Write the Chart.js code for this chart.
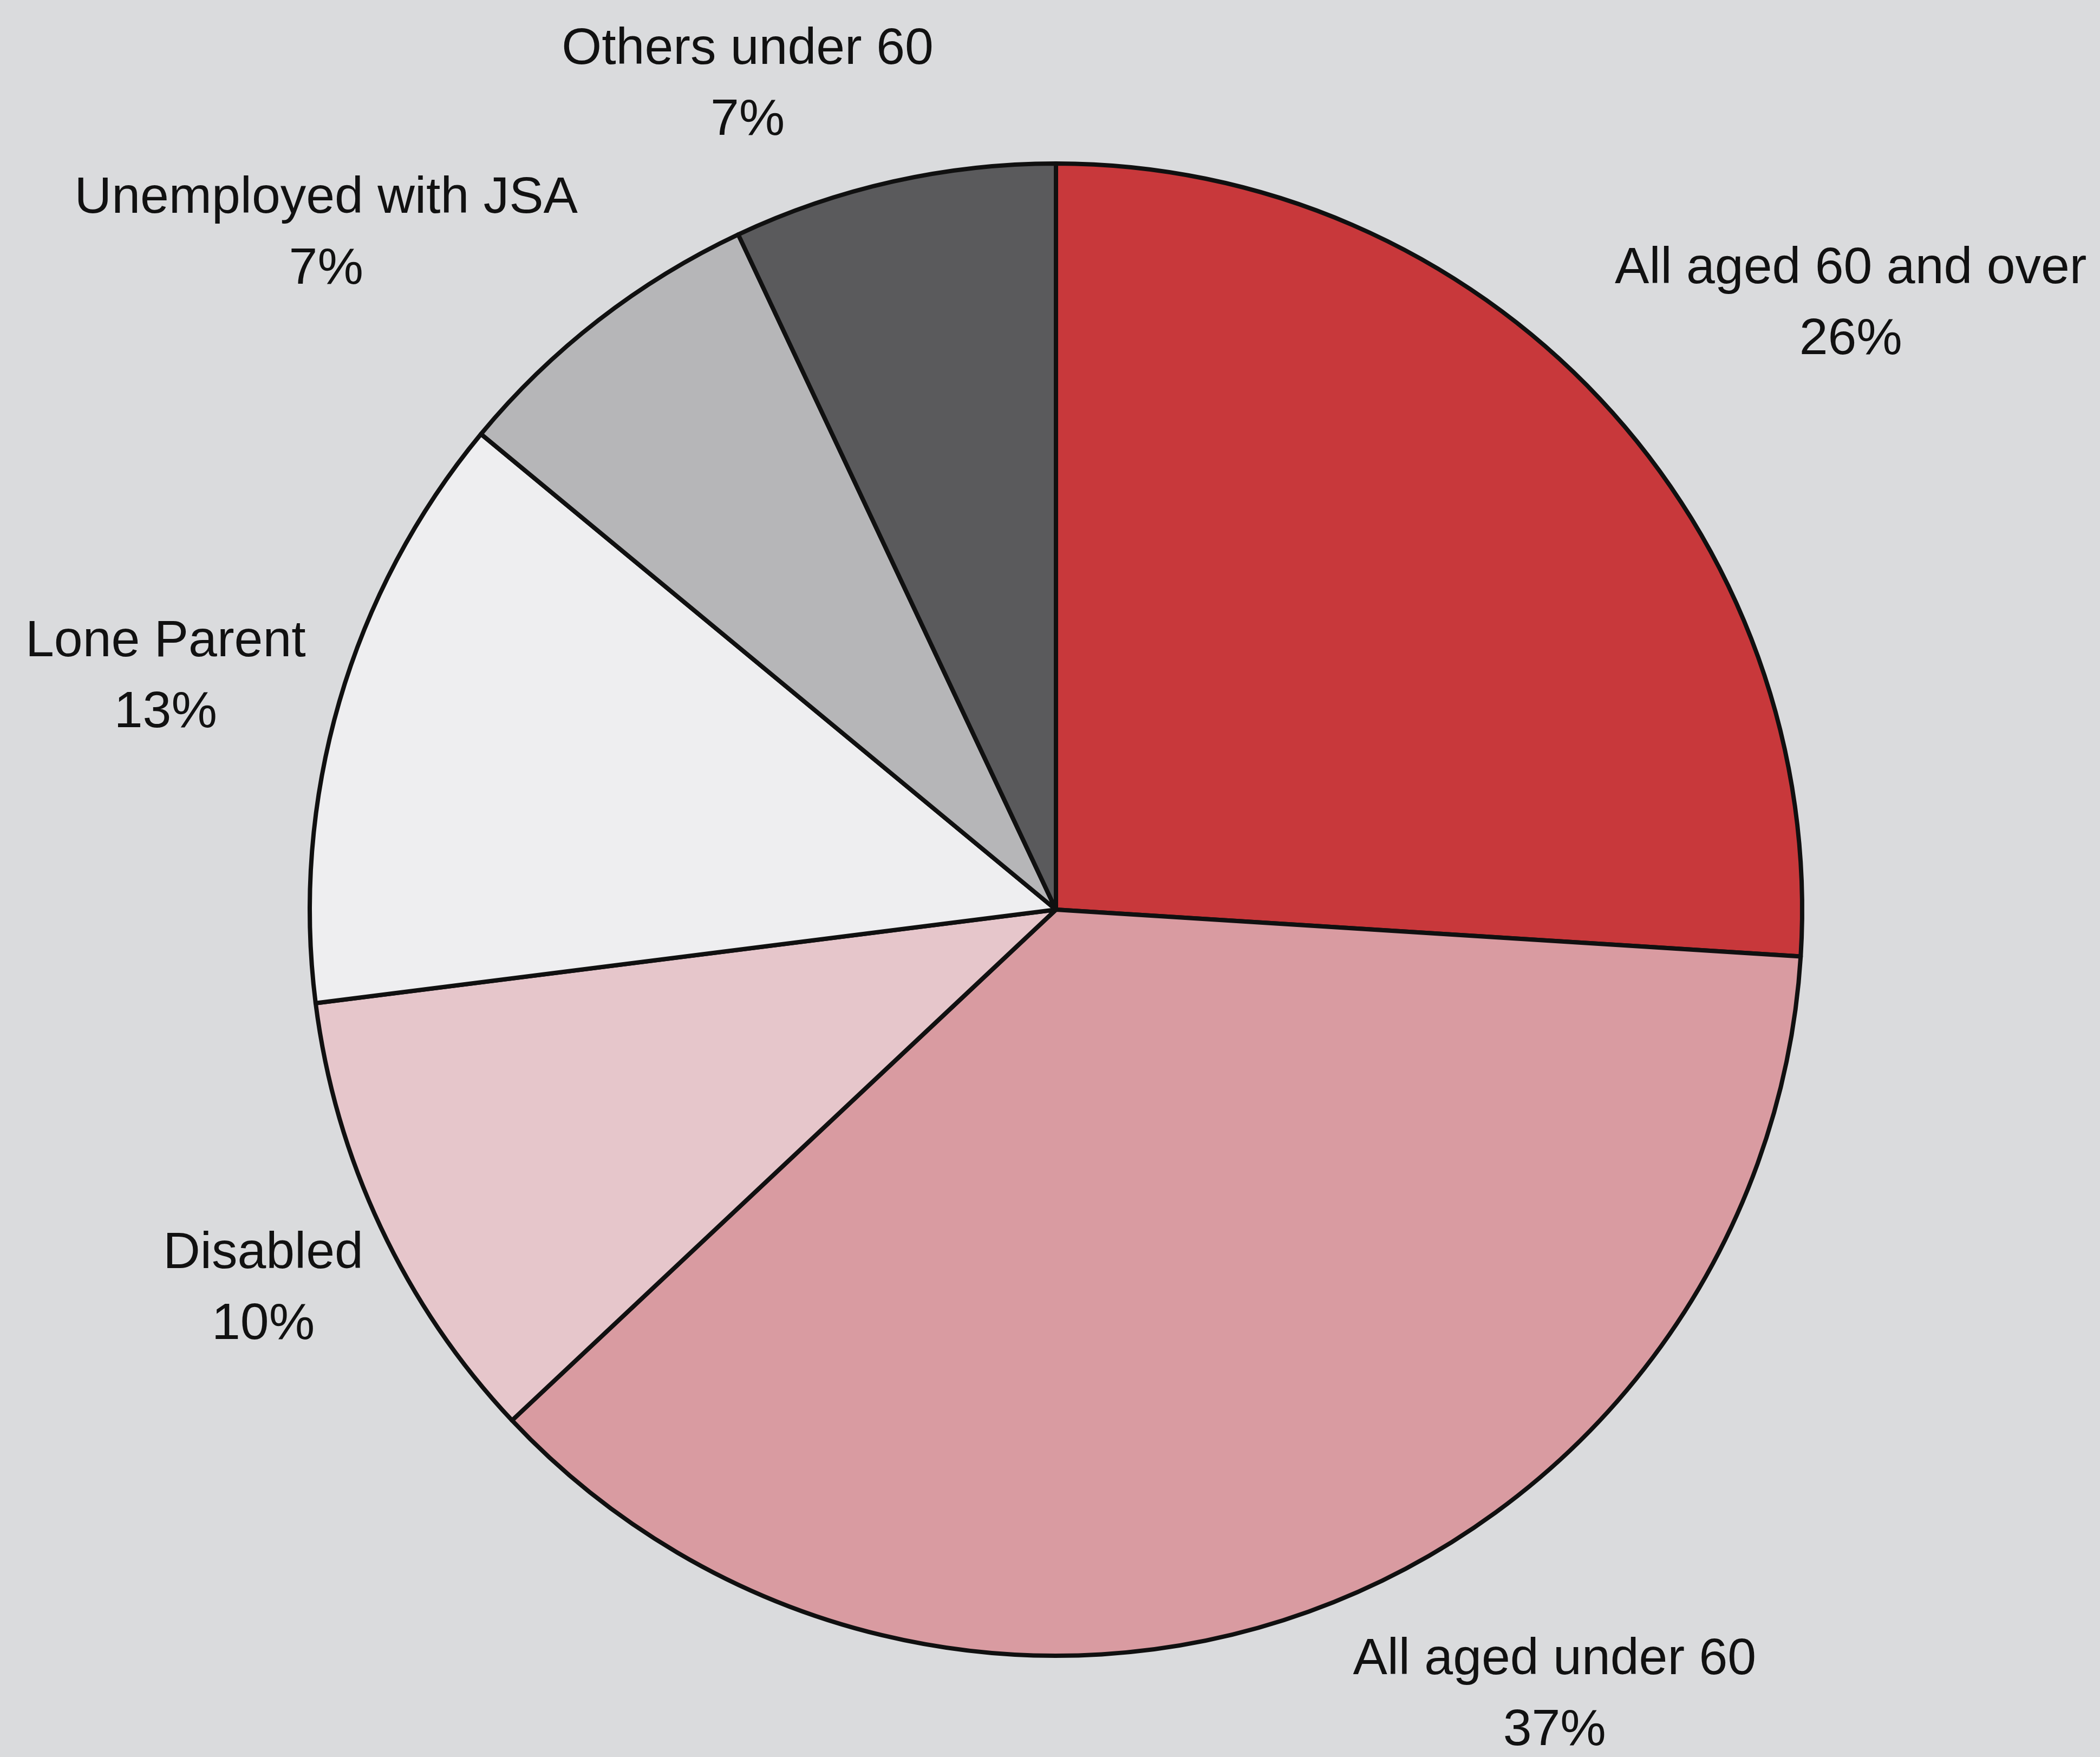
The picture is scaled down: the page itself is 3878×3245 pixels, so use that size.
<html lang="en">
<head>
  <meta charset="utf-8" />
  <title>Recipients by group</title>
  <style>
    * {
      padding: 0;
      margin: 0;
      box-sizing: border-box;
    }
    body {
      width: 3878px;
      height: 3245px;
      background: #dadbdd;
      overflow: hidden;
    }
    #pie {
      display: block;
    }
  </style>
</head>
<body>
  <canvas id="pie" width="3878" height="3245"></canvas>

  <script src="https://cdn.jsdelivr.net/npm/chart.js@4/dist/chart.umd.min.js"></script>
  <script>
    // Groups, clockwise from 12 o'clock
    const groups = [
      "All aged 60 and over",
      "All aged under 60",
      "Disabled",
      "Lone Parent",
      "Unemployed with JSA",
      "Others under 60",
    ];
    // Share of recipients, per cent
    const shares = [26, 37, 10, 13, 7, 7];
    const sliceColors = ["#c8383b", "#d99ba1", "#e6c6cb", "#eeeef0", "#b6b6b8", "#5a5a5c"];

    // Where each label block sits: angle clockwise from top (deg), distance in radii
    const labelAngles = [52.7, 147.6, 244.4, 284.6, 312.8, 339.5];
    const labelDistances = [1.339, 1.247, 1.178, 1.233, 1.333, 1.18];

    const labelFont = "95px 'Liberation Sans', Arial, sans-serif";
    const lineGap = 131;

    // Two-line labels outside the pie: name, then percentage
    const outsideLabels = {
      id: "outsideLabels",
      afterDatasetsDraw(chart) {
        const ctx = chart.ctx;
        const arcs = chart.getDatasetMeta(0).data;
        ctx.save();
        ctx.font = labelFont;
        ctx.fillStyle = "#111111";
        ctx.textAlign = "center";
        ctx.textBaseline = "middle";
        arcs.forEach((arc, i) => {
          const a = (labelAngles[i] * Math.PI) / 180;
          const d = arc.outerRadius * labelDistances[i];
          const cx = arc.x + Math.sin(a) * d;
          const cy = arc.y - Math.cos(a) * d;
          ctx.fillText(groups[i], cx, cy - lineGap / 2);
          ctx.fillText(shares[i] + "%", cx, cy + lineGap / 2);
        });
        ctx.restore();
      },
    };

    new Chart(document.getElementById("pie"), {
      type: "pie",
      plugins: [outsideLabels],
      data: {
        labels: groups,
        datasets: [
          {
            data: shares,
            backgroundColor: sliceColors,
            borderColor: "#101010",
            borderWidth: 8,
            borderJoinStyle: "round",
          },
        ],
      },
      options: {
        responsive: false,
        animation: false,
        radius: 1378,
        layout: {
          padding: { left: 560, right: 538, top: 280, bottom: 165 },
        },
        plugins: {
          legend: { display: false },
          tooltip: { enabled: false },
        },
      },
    });
  </script>
</body>
</html>
